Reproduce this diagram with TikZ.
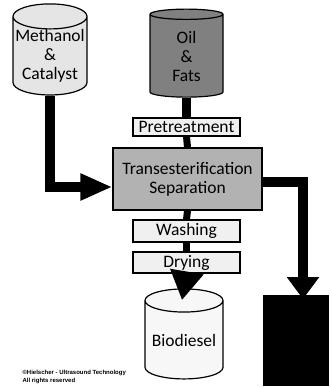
\documentclass[tikz,border=0pt]{standalone}
\usepackage{fontspec}
\setmainfont{Carlito}
\newfontfamily\notefont{Liberation Sans}
\usetikzlibrary{shapes.geometric,arrows.meta}
\begin{document}
\begin{tikzpicture}[x=1pt,y=-1pt,font=\fontsize{17.5}{19}\selectfont,
  tank/.style={cylinder, shape border rotate=90, aspect=0.36, draw=black, line width=1.2pt, inner sep=0pt, align=center},
  stage/.style={rectangle, draw=black, line width=1.2pt, inner sep=0pt, align=center, minimum width=107pt},
  pipe/.style={line width=7pt, black},
  feed/.style={line width=10pt, black, -{Triangle[width=28pt,length=30pt]}}]
  \useasboundingbox (0,0) rectangle (331,387);
  % storage tanks
  \node[tank, fill=black!10, minimum width=74pt, minimum height=90pt] (meth) at (50,56) {Methanol\\\&\\Catalyst};
  \node[tank, fill=black!50, minimum width=73pt, minimum height=88pt] (oil) at (186.5,56) {Oil\\\&\\Fats};
  \node[tank, fill=black!3, minimum width=78pt, minimum height=90pt] (bio) at (184,340) {Biodiesel};
  \node[tank, fill=black, minimum width=64pt, minimum height=90pt] (waste) at (296,341) {};
  % process stages
  \node[stage, fill=black!6, minimum height=18pt] (pre) at (186.5,127) {Pretreatment};
  \node[stage, fill=black!30, minimum width=149pt, minimum height=62pt] (trans) at (187.5,179) {Transesterification\\Separation};
  \node[stage, fill=black!6, minimum height=22pt] (wash) at (186.5,231) {Washing};
  \node[stage, fill=black!6, minimum height=21pt] (dry) at (186.5,262.5) {Drying};
  % flows
  \draw[pipe, line width=9pt] (oil.south) -- (pre.north);
  \draw[pipe] (pre.south) -- (trans.north);
  \draw[pipe] (trans.south) -- (wash.north);
  \draw[pipe] (wash.south) -- (dry.north);
  \draw[pipe, -{Triangle[width=32pt,length=29pt]}, shorten >=-12pt] (dry.south) -- (bio.north);
  \draw[feed, -{Triangle[width=25pt,length=32pt]}] (meth.south) |- ([yshift=-8pt]trans.west);
  \draw[feed, -{Triangle[width=31pt,length=22pt]}, shorten >=-4pt] ([yshift=-3pt]trans.east) -| ([xshift=7pt]waste.north);
  \node[font=\notefont\bfseries\fontsize{6}{7.5}\selectfont, align=left, anchor=west] (credit) at (19,377) {\textcopyright Hielscher - Ultrasound Technology\\All rights reserved};
\end{tikzpicture}
\end{document}
